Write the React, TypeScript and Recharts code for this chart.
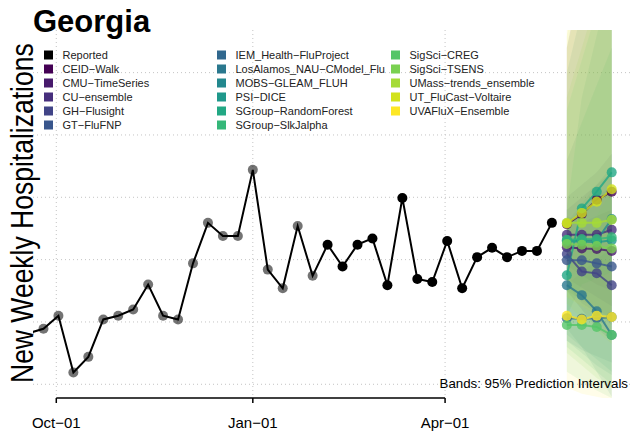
import React from "react";
import { ComposedChart, Line, Area, XAxis, YAxis, CartesianGrid, ReferenceLine } from "recharts";

// weekly reported hospitalizations (week ending Saturday)
const reportedDates = [
  "2021-09-18", "2021-09-25", "2021-10-02", "2021-10-09", "2021-10-16", "2021-10-23",
  "2021-10-30", "2021-11-06", "2021-11-13", "2021-11-20", "2021-11-27", "2021-12-04",
  "2021-12-11", "2021-12-18", "2021-12-25", "2022-01-01", "2022-01-08", "2022-01-15",
  "2022-01-22", "2022-01-29", "2022-02-05", "2022-02-12", "2022-02-19", "2022-02-26",
  "2022-03-05", "2022-03-12", "2022-03-19", "2022-03-26", "2022-04-02", "2022-04-09",
  "2022-04-16", "2022-04-23", "2022-04-30", "2022-05-07", "2022-05-14", "2022-05-21",
];
const reported = [
  182, 189, 210, 119, 144, 204, 210, 220, 260, 210, 204, 294,
  359, 338, 338, 444, 284, 254, 354, 274, 324, 289, 324, 334,
  259, 399, 269, 264, 330, 254, 304, 319, 304, 314, 314, 359,
];
// points up to this index are drawn grey (older values)
const greyUntil = 19;

const forecastDates = ["2022-05-28", "2022-06-04", "2022-06-11", "2022-06-18"];

const modelNames = [
  "CEID−Walk", "CMU−TimeSeries", "CU−ensemble", "GH−Flusight", "GT−FluFNP",
  "IEM_Health−FluProject", "LosAlamos_NAU−CModel_Flu", "MOBS−GLEAM_FLUH", "PSI−DICE",
  "SGroup−RandomForest", "SGroup−SlkJalpha", "SigSci−CREG", "SigSci−TSENS",
  "UMass−trends_ensemble", "UT_FluCast−Voltaire", "UVAFluX−Ensemble",
];
const modelColors = [
  "#440154", "#481A6C", "#472F7D", "#414487", "#39568C", "#31688E", "#2A788E", "#23888E",
  "#1F988B", "#22A884", "#35B779", "#54C568", "#7AD151", "#A5DB36", "#D2E21B", "#FDE725",
];
const modelPoints = [
  [357, 373, 396, 409],
  [320, 318, 317, 314],
  [340, 340, 340, 348],
  [309, 281, 278, 259],
  [299, 299, 294, 289],
  [206, 205, 206, 208],
  [259, 243, 217, 179],
  [331, 331, 331, 365],
  [329, 329, 328, 331],
  [275, 382, 409, 440],
  [332, 333, 333, 336],
  [195, 195, 192, 179],
  [325, 324, 322, 318],
  [359, 359, 359, 364],
  [358, 375, 393, 413],
  [210, 204, 210, 208],
];
const modelLower = [
  [250, 220, 190, 170],
  [270, 255, 240, 225],
  [290, 275, 260, 250],
  [260, 230, 215, 195],
  [250, 235, 220, 205],
  [170, 155, 145, 135],
  [190, 160, 120, 80],
  [170, 150, 130, 115],
  [180, 160, 140, 120],
  [210, 260, 270, 280],
  [160, 140, 120, 100],
  [120, 105, 90, 78],
  [150, 130, 110, 95],
  [230, 205, 185, 165],
  [240, 225, 210, 200],
  [95, 85, 80, 75],
];
const modelUpper = [
  [640, 760, 860, 960],
  [380, 400, 420, 440],
  [400, 420, 440, 470],
  [370, 360, 370, 380],
  [360, 380, 400, 420],
  [260, 280, 300, 320],
  [360, 390, 420, 450],
  [600, 700, 780, 860],
  [460, 520, 580, 640],
  [380, 560, 660, 760],
  [540, 620, 700, 780],
  [290, 330, 370, 410],
  [560, 640, 720, 800],
  [640, 740, 820, 900],
  [660, 780, 880, 980],
  [720, 800, 880, 960],
];

const tickDates = ["2021-10-01", "2022-01-01", "2022-04-01"];
const tickLabels = ["Oct−01", "Jan−01", "Apr−01"];
const gridValues = [100, 200, 300, 400, 500, 600];

const origin = Date.parse("2021-10-01");
const dayOf = (d: string) => (Date.parse(d) - origin) / 86400000;

const rows: any[] = reportedDates.map((d, i) => ({ x: dayOf(d), reported: reported[i], idx: i }));
forecastDates.forEach((d, h) => {
  const row: any = { x: dayOf(d) };
  modelNames.forEach((_, m) => {
    row[`m${m}`] = modelPoints[m][h];
    row[`b${m}`] = [modelLower[m][h], modelUpper[m][h]];
  });
  rows.push(row);
});

const tickDays = tickDates.map(dayOf);
const font = "'Liberation Sans', Arial, Helvetica, sans-serif";

function ReportedDot(props: any) {
  const { cx, cy, index } = props;
  if (cx == null || cy == null || rows[index]?.reported == null) return <g key={`rd${index}`} />;
  const grey = index <= greyUntil;
  return <circle key={`rd${index}`} cx={cx} cy={cy} r={5} fill="#000" fillOpacity={grey ? 0.55 : 1} />;
}

const legendCols = [
  ["Reported", ...modelNames.slice(0, 5)],
  modelNames.slice(5, 11),
  modelNames.slice(11),
];
const legendX = [44, 217, 391];

export default function App() {
  return (
    <div style={{ position: "absolute", left: 0, top: 0, width: 632, height: 433, fontFamily: font, background: "#fff" }}>
      <ComposedChart width={632} height={433} data={rows} margin={{ top: 30, right: 0, bottom: 0, left: 33 }}>
        <CartesianGrid stroke="#c4c4c4" strokeDasharray="1 3" horizontalValues={gridValues} verticalValues={tickDays} />
        <XAxis
          dataKey="x" type="number" domain={[-10.9, 269.5]} allowDataOverflow ticks={tickDays}
          tickFormatter={(v: number) => tickLabels[tickDays.indexOf(v)] ?? ""}
          height={35} axisLine={false} tickSize={5} tickMargin={14}
          tickLine={{ stroke: "#000", strokeWidth: 1.5 }}
          tick={{ fontSize: 15, fill: "#000", fontFamily: font }}
        />
        <YAxis hide type="number" domain={[78, 668.4]} allowDataOverflow ticks={gridValues} />
        <ReferenceLine
          segment={[{ x: tickDays[0], y: 78 }, { x: tickDays[2], y: 78 }]}
          stroke="#000" strokeWidth={1.6} ifOverflow="visible"
        />
        {modelNames.map((n, m) => (
          <Area
            key={`band${m}`} dataKey={`b${m}`} type="linear" stroke="none"
            fill={modelColors[m]} fillOpacity={0.1} isAnimationActive={false} dot={false} activeDot={false}
          />
        ))}
        <Line dataKey="reported" stroke="none" dot={ReportedDot} activeDot={false} isAnimationActive={false} />
        <Line dataKey="reported" stroke="#000" strokeWidth={2} dot={false} activeDot={false} isAnimationActive={false} />
        {modelNames.map((n, m) => (
          <Line
            key={`line${m}`} dataKey={`m${m}`} type="linear" stroke={modelColors[m]} strokeOpacity={0.8}
            strokeWidth={2} activeDot={false} isAnimationActive={false}
            dot={{ r: 5, fill: modelColors[m], fillOpacity: 0.8, stroke: "none" }}
          />
        ))}
      </ComposedChart>

      <svg width={632} height={433} style={{ position: "absolute", left: 0, top: 0, pointerEvents: "none" }}>
        <text x={33} y={31.5} fontSize={31} fontWeight="bold" fill="#000">Georgia</text>
        <text transform="translate(33 383) rotate(-90) scale(1 1.2)" x={0} y={0} fontSize={26.5} fill="#000">
          New Weekly Hospitalizations
        </text>
        <text x={628} y={388} fontSize={13.3} textAnchor="end" fill="#000">Bands: 95% Prediction Intervals</text>
        {legendCols.map((col, c) =>
          col.map((name, r) => {
            const colour = name === "Reported" ? "#000" : modelColors[modelNames.indexOf(name)];
            const y = 55 + r * 14;
            return (
              <g key={name}>
                <rect x={legendX[c]} y={y - 4.5} width={9} height={9} fill={colour} />
                <text x={legendX[c] + 18.5} y={y + 4} fontSize={11} fill="#222">{name}</text>
              </g>
            );
          })
        )}
      </svg>
    </div>
  );
}
